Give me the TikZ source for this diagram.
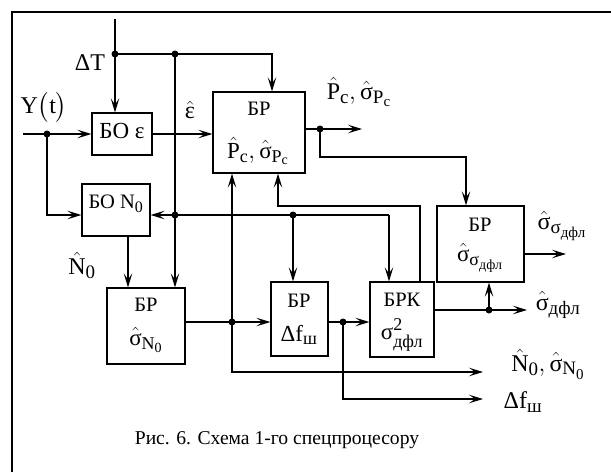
\documentclass[tikz,border=0pt]{standalone}
\usepackage{amsmath}
\usepackage{fontspec}
\setmainfont{Liberation Serif}
\usetikzlibrary{arrows.meta}
\DeclareMathSizes{20.5}{20.5}{16}{12}
\DeclareMathSizes{23}{23}{18}{14}
\DeclareMathSizes{24}{24}{19}{15}
\newcommand{\tx}[1]{\text{#1}}
\begin{document}
\begin{tikzpicture}[x=1pt,y=1pt,
  wire/.style={line width=1.2pt},
  arr/.style={wire,-{Stealth[length=14pt,width=8.5pt,inset=6pt]}},
  arrboth/.style={wire,{Stealth[length=14pt,width=8.5pt,inset=6pt]}-{Stealth[length=14pt,width=8.5pt,inset=6pt]}},
  blk/.style={draw,line width=1.2pt,rectangle,inner sep=0pt},
  ttl/.style={inner sep=0pt,font=\fontsize{20.5}{24}\selectfont},
  frm/.style={inner sep=0pt,font=\fontsize{23}{27}\selectfont},
  lbl/.style={inner sep=0pt,font=\fontsize{24}{28}\selectfont},
  captext/.style={inner sep=0pt,font=\fontsize{19.6}{23}\selectfont},
  jdot/.style={circle,fill=black,inner sep=0pt,minimum size=7pt}]
\useasboundingbox (0,0) rectangle (611,-472);
\draw[line width=1.6pt] (12,-472) -- (12,-12) -- (611,-12);

% boxes
\node[blk,minimum width=60pt,minimum height=42pt] (boe) at (122,-134) {};
\node[blk,minimum width=68pt,minimum height=52pt] (bon) at (116,-210) {};
\node[blk,minimum width=92pt,minimum height=81pt] (brp) at (259,-132.5) {};
\node[blk,minimum width=78pt,minimum height=76pt] (brn) at (146,-326) {};
\node[blk,minimum width=57pt,minimum height=74pt] (brf) at (299.5,-319) {};
\node[blk,minimum width=64pt,minimum height=75pt] (brk) at (402,-319.5) {};
\node[blk,minimum width=87pt,minimum height=76pt] (brs) at (480.5,-244) {};

% box texts
\node[frm] (tboe) at (122,-131) {БО ε};
\node[ttl] (tbon) at (116,-204) {БО N$_{\tx{0}}$};
\node[ttl] (tbrp1) at (259,-109) {БР};
\node[frm] (tbrp2) at (258,-151) {$\hat{\tx{P}}_{\tx{c}},\hat{\tx{σ}}_{\tx{P}_{\tx{c}}}$};
\node[ttl] (tbrn1) at (146,-305) {БР};
\node[frm] (tbrn2) at (146,-340) {$\hat{\tx{σ}}_{\tx{N}_{\tx{0}}}$};
\node[ttl] (tbrf1) at (299,-301) {БР};
\node[frm] (tbrf2) at (299,-335) {Δf$_{\tx{ш}}$};
\node[ttl] (tbrk1) at (402,-300) {БРК};
\node[frm] (tbrk2) at (402,-335) {$\tx{σ}^{\tx{2}}_{\tx{дфл}}$};
\node[ttl] (tbrs1) at (480,-225) {БР};
\node[frm] (tbrs2) at (480,-258) {$\hat{\tx{σ}}_{\tx{σ}_{\tx{дфл}}}$};

% labels
\node[lbl] (ldt) at (90,-63) {ΔT};
\node[lbl] (ly) at (44,-107) {$\tx{Y}\big(\tx{t}\big)$};
\node[lbl] (leps) at (190,-110) {$\hat{\tx{ε}}$};
\node[lbl] (lpc) at (359,-92) {$\hat{\tx{P}}_{\tx{c}},\hat{\tx{σ}}_{\tx{P}_{\tx{c}}}$};
\node[lbl] (ln0) at (82,-265) {$\hat{\tx{N}}_{\tx{0}}$};
\node[lbl] (lss) at (562,-226) {$\hat{\tx{σ}}_{\tx{σ}_{\tx{дфл}}}$};
\node[lbl] (lsd) at (558,-305) {$\hat{\tx{σ}}_{\tx{дфл}}$};
\node[lbl] (lns) at (548,-364) {$\hat{\tx{N}}_{\tx{0}},\hat{\tx{σ}}_{\tx{N}_{\tx{0}}}$};
\node[lbl] (ldf) at (523,-402) {Δf$_{\tx{ш}}$};
\node[captext] (caption) at (277,-440) {Рис. 6. Схема 1-го спецпроцесору};

% junctions
\node[jdot] (j1) at (115,-54) {};
\node[jdot] (j2) at (175,-54) {};
\node[jdot] (j3) at (47,-134) {};
\node[jdot] (j4) at (175,-215) {};
\node[jdot] (j5) at (293,-215) {};
\node[jdot] (j6) at (320,-129) {};
\node[jdot] (j7) at (232,-322) {};
\node[jdot] (j8) at (343,-322) {};
\node[jdot] (j9) at (489,-310) {};

\coordinate (dtin) at (115,-19);
\coordinate (yin) at (23,-134);
\coordinate (opc) at (362,-129);
\coordinate (oss) at (566,-254);
\coordinate (osd) at (527,-310);
\coordinate (ons) at (483,-372);
\coordinate (odf) at (483,-399);
\coordinate (hl) at (389,-215);

% connectors
\draw[arr] (dtin) -- (j1.center) -- (boe.north -| j1);
\draw[arr] (j1.center) -- (272,-54) -- (272,-54 |- brp.north);
\draw[arr] (j2.center) -- (j2 |- brn.north);
\draw[arr] (yin) -- (boe.west |- yin);
\draw[arr] (j3.center) -- (47,-215) -- (bon.west |- hl);
\draw[arr] (boe.east |- yin) -- (brp.west |- yin);
\draw[arr] (hl) -- (bon.east |- hl);
\draw[arr] (hl) -- (hl |- brk.north);
\draw[arr] (j5.center) -- (j5 |- brf.north);
\draw[arr] (bon.south -| 128,0) -- (brn.north -| 128,0);
\draw[arr] (brp.east |- j6) -- (opc);
\draw[arr] (j6.center) -- (320,-157) -- (466,-157) -- (466,-157 |- brs.north);
\draw[arr] (brs.east |- oss) -- (oss);
\draw[arr] (brn.east |- j7) -- (brf.west |- j7);
\draw[arrboth] (brp.south -| j7) -- (j7 |- ons) -- (ons);
\draw[arr] (brf.east |- j8) -- (brk.west |- j8);
\draw[arr] (j8.center) -- (j8 |- odf) -- (odf);
\draw[arr] (brk.north -| 420,0) -- (420,-206) -- (278,-206) -- (brp.south -| 278,0);
\draw[arr] (brk.east |- osd) -- (osd);
\draw[arr] (j9.center) -- (j9 |- brs.south);
\end{tikzpicture}
\end{document}
